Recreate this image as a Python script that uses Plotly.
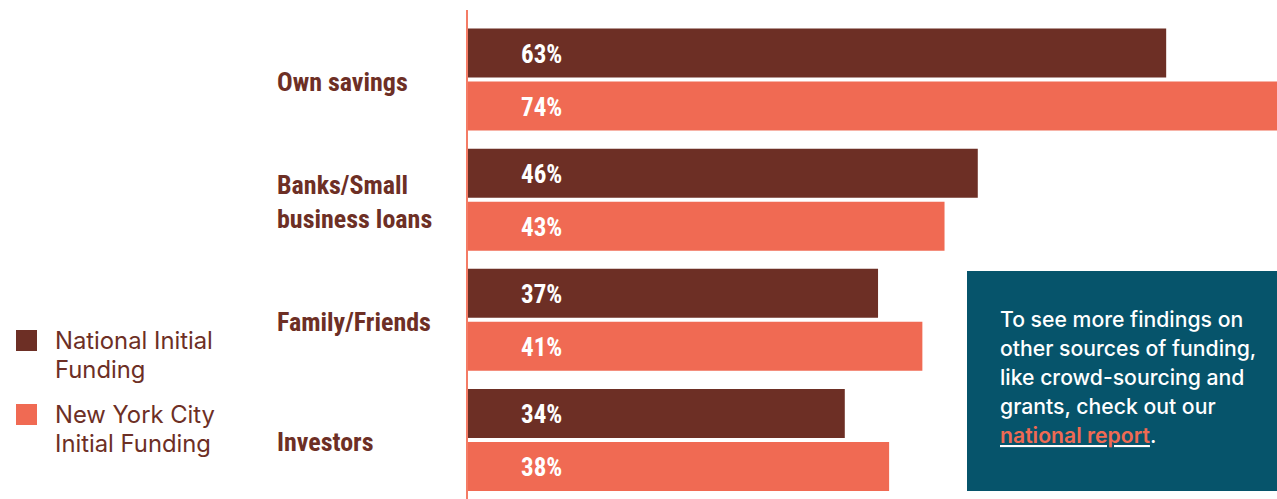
import plotly.graph_objects as go

# Funding sources and shares (%)
categories = ["Own savings", "Banks/Small<br>business loans", "Family/Friends", "Investors"]
national = [63, 46, 37, 34]
nyc = [74, 43, 41, 38]
series_names = ["National Initial Funding", "New York City Initial Funding"]
legend_lines = [["National Initial", "Funding"], ["New York City", "Initial Funding"]]
note_lines = [
    "To see more findings on",
    "other sources of funding,",
    "like crowd-sourcing and",
    "grants, check out our",
    '<u><span style="color:#f06a53;font-weight:600">national report</span></u>.',
]

DARK = "#6d2f25"
LIGHT = "#f06a53"
TEAL = "#06546b"
LABEL = "#6d2f25"
COND = "Roboto Condensed, Liberation Sans Narrow, DejaVu Sans Condensed, sans-serif"
SANS = "Inter, Lato, sans-serif"

W, H = 1277, 499
ML, MT = 468, 10
plot_w, plot_h = W - ML, H - MT

fig = go.Figure()
fig.add_trace(go.Bar(y=categories, x=national, orientation="h", name=series_names[0],
                     marker=dict(color=DARK, line=dict(width=0)), hoverinfo="x+y"))
fig.add_trace(go.Bar(y=categories, x=nyc, orientation="h", name=series_names[1],
                     marker=dict(color=LIGHT, line=dict(width=0)), hoverinfo="x+y"))

# value labels near the start of each bar
for cat, a, b in zip(categories, national, nyc):
    fig.add_annotation(x=6.6, y=cat, yshift=25, text=f"<b>{a}%</b>", showarrow=False,
                       font=dict(family=COND, size=25, color="white"), xanchor="center")
    fig.add_annotation(x=6.6, y=cat, yshift=-28, text=f"<b>{b}%</b>", showarrow=False,
                       font=dict(family=COND, size=25, color="white"), xanchor="center")

# category labels, left aligned
for cat in categories:
    fig.add_annotation(x=(275 - ML) / plot_w, xref="paper", y=cat, yshift=-2, text=f"<b>{cat}</b>",
                       showarrow=False, xanchor="left", align="left",
                       font=dict(family=COND, size=26, color=LABEL))

def px_x(p):
    return (p - ML) / plot_w

def px_y(p):
    return (H - p) / plot_h

# custom legend
sq_tops = [330, 404]
for i, (color, lines) in enumerate(zip([DARK, LIGHT], legend_lines)):
    top = sq_tops[i]
    fig.add_shape(type="rect", xref="paper", yref="paper",
                  x0=px_x(16), x1=px_x(37), y0=px_y(top), y1=px_y(top + 21),
                  fillcolor=color, line=dict(width=0))
    for j, line in enumerate(lines):
        fig.add_annotation(xref="paper", yref="paper", x=px_x(53), y=px_y(top + 10 + 29.5 * j),
                           text=line, showarrow=False, xanchor="left", yanchor="middle",
                           font=dict(family=SANS, size=23.8, color="#6d2f25"))

# note box
fig.add_shape(type="rect", xref="paper", yref="paper",
              x0=px_x(967), x1=1.0, y0=px_y(491), y1=px_y(271),
              fillcolor=TEAL, line=dict(width=0), layer="above")
for k, line in enumerate(note_lines):
    fig.add_annotation(xref="paper", yref="paper", x=px_x(998), y=px_y(319 + 29 * k),
                       text=line, showarrow=False, xanchor="left", yanchor="middle",
                       font=dict(family=SANS, size=21.2, color="white", weight=500))

fig.update_layout(
    width=W, height=H,
    margin=dict(l=ML, r=0, t=MT, b=0),
    paper_bgcolor="white", plot_bgcolor="white",
    barmode="group", bargap=0.117, bargroupgap=0.075,
    showlegend=False,
    xaxis=dict(range=[0, 73.0], visible=False, fixedrange=True),
    yaxis=dict(range=[3.4917, -0.579], showticklabels=False, showgrid=False, zeroline=False,
               showline=True, linecolor="#f47c66", linewidth=2, ticks=""),
    font=dict(family=SANS),
)

fig.write_html("out.html", config={"displayModeBar": False})
